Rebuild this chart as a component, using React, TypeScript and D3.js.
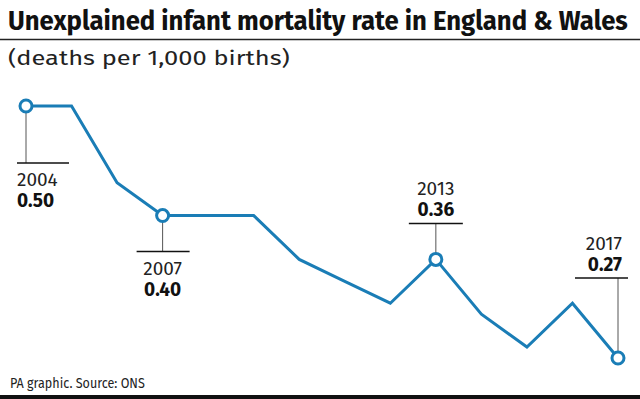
import * as d3 from 'd3';
import { useEffect, useRef } from 'react';

const width = 640;
const height = 399;

const years = [2004, 2005, 2006, 2007, 2008, 2009, 2010, 2011, 2012, 2013, 2014, 2015, 2016, 2017];
const rates = [0.5, 0.5, 0.43, 0.4, 0.4, 0.4, 0.36, 0.34, 0.32, 0.36, 0.31, 0.28, 0.32, 0.27];

const labelYears = [2004, 2007, 2013, 2017];
const labelValues = ['0.50', '0.40', '0.36', '0.27'];

// where each callout sits relative to its point
const callouts = [
  { dy: 57, x0: -9, x1: 43, anchor: 'start', tx: -9, below: true },
  { dy: 36, x0: -26, x1: 27, anchor: 'middle', tx: 0, below: true },
  { dy: -36, x0: -27, x1: 27, anchor: 'middle', tx: 0, below: false },
  { dy: -80, x0: -43, x1: 10, anchor: 'end', tx: 4, below: false },
];

const blue = '#1a7db6';
const font = "'Fira Sans', 'Open Sans', 'Noto Sans', sans-serif";

// squeeze a text horizontally to a given width (condensed look)
function fitText(
  sel: d3.Selection<SVGTextElement, unknown, null, undefined>,
  x: number,
  y: number,
  w: number
) {
  const len = sel.node()!.getComputedTextLength() || w;
  sel.attr('transform', `translate(${x},${y}) scale(${w / len},1)`);
}

export default function App() {
  const svgRef = useRef<SVGSVGElement>(null);

  useEffect(() => {
    const svg = d3.select(svgRef.current);
    svg.selectAll('*').remove();

    const x = d3.scaleLinear().domain([2004, 2017]).range([26, 618]);
    const y = d3.scaleLinear().domain([0.27, 0.5]).range([358, 106]);

    // header
    const title = svg
      .append('text')
      .attr('font-family', font)
      .attr('font-weight', 700)
      .attr('font-size', 27)
      .attr('fill', '#111')
      .text('Unexplained infant mortality rate in England & Wales');
    fitText(title as any, 8, 30, 620);

    svg
      .append('line')
      .attr('x1', 0)
      .attr('x2', width)
      .attr('y1', 39.5)
      .attr('y2', 39.5)
      .attr('stroke', '#222')
      .attr('stroke-width', 1.5);

    const sub = svg
      .append('text')
      .attr('font-family', font)
      .attr('font-size', 21)
      .attr('fill', '#222')
      .text('(deaths per 1,000 births)');
    fitText(sub as any, 8, 65, 282);

    // callout leaders go under the line
    const gCall = svg.append('g');
    labelYears.forEach((yr, i) => {
      const c = callouts[i];
      const px = x(yr);
      const py = y(rates[years.indexOf(yr)]);
      const ry = py + c.dy;
      gCall
        .append('line')
        .attr('x1', px)
        .attr('x2', px)
        .attr('y1', py)
        .attr('y2', ry)
        .attr('stroke', '#555')
        .attr('stroke-width', 1);
      gCall
        .append('line')
        .attr('x1', px + c.x0)
        .attr('x2', px + c.x1)
        .attr('y1', ry)
        .attr('y2', ry)
        .attr('stroke', '#111')
        .attr('stroke-width', 1.5);
      const base1 = c.below ? ry + 23 : ry - 28;
      gCall
        .append('text')
        .attr('x', px + c.tx)
        .attr('y', base1)
        .attr('text-anchor', c.anchor)
        .attr('font-family', font)
        .attr('font-size', 19)
        .attr('fill', '#222')
        .text(String(yr));
      gCall
        .append('text')
        .attr('x', px + c.tx)
        .attr('y', base1 + 21)
        .attr('text-anchor', c.anchor)
        .attr('font-family', font)
        .attr('font-weight', 700)
        .attr('font-size', 19)
        .attr('fill', '#111')
        .text(labelValues[i]);
    });

    const line = d3
      .line<number>()
      .x((_, i) => x(years[i]))
      .y((d) => y(d));

    svg
      .append('path')
      .datum(rates)
      .attr('d', line)
      .attr('fill', 'none')
      .attr('stroke', blue)
      .attr('stroke-width', 3)
      .attr('stroke-linejoin', 'miter');

    svg
      .append('g')
      .selectAll('circle')
      .data(labelYears)
      .join('circle')
      .attr('cx', (d) => x(d))
      .attr('cy', (d) => y(rates[years.indexOf(d)]))
      .attr('r', 6)
      .attr('fill', '#fff')
      .attr('stroke', blue)
      .attr('stroke-width', 3);

    // footer
    const foot = svg
      .append('text')
      .attr('font-family', font)
      .attr('font-size', 15)
      .attr('fill', '#222')
      .text('PA graphic. Source: ONS');
    fitText(foot as any, 10, 388, 135);

    svg
      .append('rect')
      .attr('x', 0)
      .attr('y', 395)
      .attr('width', width)
      .attr('height', 4)
      .attr('fill', '#111');
  }, []);

  return (
    <svg
      ref={svgRef}
      width={width}
      height={height}
      style={{ position: 'absolute', left: 0, top: 0, background: '#fff', display: 'block' }}
    />
  );
}
